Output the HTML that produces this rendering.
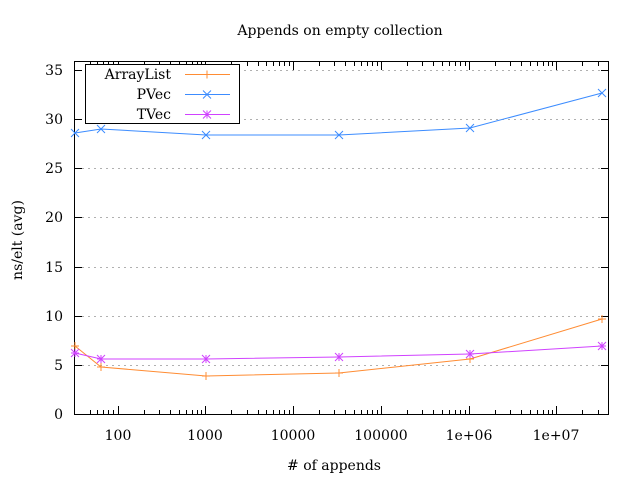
<!DOCTYPE html>
<html><head><meta charset="utf-8"><style>html,body{margin:0;padding:0;background:#fff}svg{display:block}</style></head><body>
<svg width="640" height="480" xmlns="http://www.w3.org/2000/svg" font-family="'DejaVu Serif','Liberation Serif',serif" font-size="14">
<rect width="640" height="480" fill="#fff"/>
<g stroke="#b0b0b0" stroke-dasharray="2,4" stroke-width="1">
<line x1="244" y1="70.5" x2="600" y2="70.5"/>
<line x1="244" y1="119.5" x2="600" y2="119.5"/>
<line x1="82" y1="168.5" x2="600" y2="168.5"/>
<line x1="82" y1="217.5" x2="600" y2="217.5"/>
<line x1="82" y1="267.5" x2="600" y2="267.5"/>
<line x1="82" y1="316.5" x2="600" y2="316.5"/>
<line x1="82" y1="365.5" x2="600" y2="365.5"/>
</g>
<g stroke="#000" stroke-width="1" fill="none">
<rect x="74.5" y="61.5" width="534" height="353"/>
<path d="M74 70.5h8M74 119.5h8M74 168.5h8M74 217.5h8M74 267.5h8M74 316.5h8M74 365.5h8M609 70.5h-8M609 119.5h-8M609 168.5h-8M609 217.5h-8M609 267.5h-8M609 316.5h-8M609 365.5h-8"/>
<path d="M118.5 414v-8M205.5 414v-8M293.5 414v-8M381.5 414v-8M469.5 414v-8M556.5 414v-8M118.5 62v8M205.5 62v8M293.5 62v8M381.5 62v8M469.5 62v8M556.5 62v8
M90.5 414v-4M97.5 414v-4M103.5 414v-4M108.5 414v-4M113.5 414v-4M144.5 414v-4M159.5 414v-4M170.5 414v-4M179.5 414v-4M186.5 414v-4M192.5 414v-4M197.5 414v-4M201.5 414v-4
M231.5 414v-4M247.5 414v-4M258.5 414v-4M266.5 414v-4M273.5 414v-4M279.5 414v-4M284.5 414v-4M289.5 414v-4
M319.5 414v-4M334.5 414v-4M345.5 414v-4M354.5 414v-4M361.5 414v-4M367.5 414v-4M372.5 414v-4M377.5 414v-4
M407.5 414v-4M422.5 414v-4M433.5 414v-4M442.5 414v-4M449.5 414v-4M455.5 414v-4M460.5 414v-4M465.5 414v-4
M495.5 414v-4M510.5 414v-4M521.5 414v-4M530.5 414v-4M537.5 414v-4M543.5 414v-4M548.5 414v-4M552.5 414v-4
M582.5 414v-4M598.5 414v-4
M90.5 62v4M97.5 62v4M103.5 62v4M108.5 62v4M113.5 62v4M144.5 62v4M159.5 62v4M170.5 62v4M179.5 62v4M186.5 62v4M192.5 62v4M197.5 62v4M201.5 62v4
M231.5 62v4M247.5 62v4M258.5 62v4M266.5 62v4M273.5 62v4M279.5 62v4M284.5 62v4M289.5 62v4
M319.5 62v4M334.5 62v4M345.5 62v4M354.5 62v4M361.5 62v4M367.5 62v4M372.5 62v4M377.5 62v4
M407.5 62v4M422.5 62v4M433.5 62v4M442.5 62v4M449.5 62v4M455.5 62v4M460.5 62v4M465.5 62v4
M495.5 62v4M510.5 62v4M521.5 62v4M530.5 62v4M537.5 62v4M543.5 62v4M548.5 62v4M552.5 62v4
M582.5 62v4M598.5 62v4"/>
</g>
<g text-anchor="end" fill="#000">
<text x="63" y="419">0</text><text x="63" y="370">5</text><text x="63" y="321">10</text><text x="63" y="272">15</text><text x="63" y="222">20</text><text x="63" y="173">25</text><text x="63" y="124">30</text><text x="63" y="75">35</text>
</g>
<g text-anchor="middle" fill="#000">
<text x="118" y="440">100</text><text x="205" y="440">1000</text><text x="293" y="440">10000</text><text x="381" y="440">100000</text><text x="469" y="440">1e+06</text><text x="556" y="440">1e+07</text>
<text x="340" y="35">Appends on empty collection</text>
<text x="334" y="470"># of appends</text>
<text transform="translate(22,240) rotate(-90)">ns/elt (avg)</text>
</g>
<g fill="none" stroke-width="1">
<polyline stroke="#ff8c33" points="75,346 101,367 206,376 339,373 470,359 602,319"/>
<polyline stroke="#3c8cff" points="75,133 101,129 206,135 339,135 470,128 602,93"/>
<polyline stroke="#d042ff" points="75,353 101,359 206,359 339,357 470,354 602,346"/>
</g>
<g stroke="#ff8c33" fill="none"><path d="M71 346h8M75 342v8M97 367h8M101 363v8M202 376h8M206 372v8M335 373h8M339 369v8M466 359h8M470 355v8M598 319h8M602 315v8"/></g>
<g stroke="#3c8cff" fill="none"><path d="M71 129l8 8M71 137l8-8M97 125l8 8M97 133l8-8M202 131l8 8M202 139l8-8M335 131l8 8M335 139l8-8M466 124l8 8M466 132l8-8M598 89l8 8M598 97l8-8"/></g>
<g stroke="#d042ff" fill="none"><path d="M71 349l8 8M71 357l8-8M71 353h8M75 349v8M97 355l8 8M97 363l8-8M97 359h8M101 355v8M202 355l8 8M202 363l8-8M202 359h8M206 355v8M335 353l8 8M335 361l8-8M335 357h8M339 353v8M466 350l8 8M466 358l8-8M466 354h8M470 350v8M598 342l8 8M598 350l8-8M598 346h8M602 342v8"/></g>
<rect x="85.5" y="64.5" width="154" height="59" fill="#fff" stroke="#000"/>
<g text-anchor="end" fill="#000">
<text x="171" y="79">ArrayList</text><text x="171" y="99">PVec</text><text x="171" y="119">TVec</text>
</g>
<g fill="none">
<path stroke="#ff8c33" d="M185 74.5h45M207 70.5v8"/>
<path stroke="#3c8cff" d="M185 94.5h45M203 90.5l8 8M203 98.5l8-8"/>
<path stroke="#d042ff" d="M185 114.5h45M203 110.5l8 8M203 118.5l8-8M207 110.5v8"/>
</g>
</svg>
</body></html>
